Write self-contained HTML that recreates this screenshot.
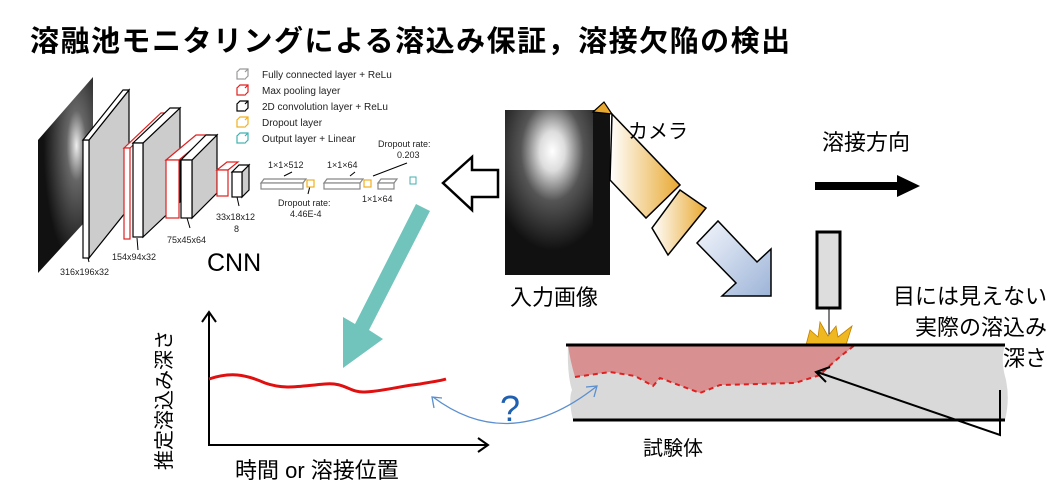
<!DOCTYPE html>
<html><head><meta charset="utf-8"><style>
body{margin:0;background:#fff;width:1063px;height:500px;overflow:hidden}
svg{display:block}
text{font-family:"Liberation Sans","Noto Sans CJK JP",sans-serif}
</style></head><body>
<svg width="1063" height="500" viewBox="0 0 1063 500">
<defs>
<linearGradient id="cam" x1="0" y1="0" x2="1" y2="0"><stop offset="0" stop-color="#fff"/><stop offset="1" stop-color="#e8a830"/></linearGradient>
<linearGradient id="blu" x1="0" y1="0" x2="1" y2="1"><stop offset="0" stop-color="#f4f7fc"/><stop offset="1" stop-color="#9db4d8"/></linearGradient>
<radialGradient id="glow" cx="0.45" cy="0.25" r="0.6"><stop offset="0" stop-color="#fff"/><stop offset="0.2" stop-color="#ddd"/><stop offset="0.5" stop-color="#555"/><stop offset="1" stop-color="#111"/></radialGradient>
<radialGradient id="glow2" cx="0.7" cy="0.35" r="0.6"><stop offset="0" stop-color="#eee"/><stop offset="0.3" stop-color="#666"/><stop offset="1" stop-color="#111"/></radialGradient>
</defs>
<text x="30" y="51" font-size="29" font-weight="bold" fill="#000" letter-spacing="1.5">溶融池モニタリングによる溶込み保証，溶接欠陥の検出</text>

<!-- CNN -->
<polygon points="38,140 93,77 93,213 38,273" fill="url(#glow2)"/>
<g stroke="#000" stroke-width="1.2">
<polygon points="89,140 129,90 129,208 89,258" fill="#ccc"/><rect x="83" y="140" width="6" height="118" fill="#fff"/><polygon points="83,140 123,90 129,90 89,140" fill="#fff"/>
</g>
<g stroke="#e02020" stroke-width="1.2" fill="#fff">
<polygon points="124,148 161,113 167,113 130,148"/><rect x="124" y="148" width="6" height="91"/>
</g>
<g stroke="#000" stroke-width="1.2">
<polygon points="143,143 180,108 180,202 143,237" fill="#ccc"/><polygon points="133,143 170,108 180,108 143,143" fill="#fff"/><rect x="133" y="143" width="10" height="94" fill="#fff"/>
</g>
<g stroke="#e02020" stroke-width="1.2" fill="#fff">
<polygon points="166,160 196,135 209,135 179,160"/><rect x="166" y="160" width="13" height="58"/>
</g>
<g stroke="#000" stroke-width="1.2">
<polygon points="192,160 217,135 217,193 192,218" fill="#ccc"/><polygon points="181,160 206,135 217,135 192,160" fill="#fff"/><rect x="181" y="160" width="11" height="58" fill="#fff"/>
</g>
<g stroke="#e02020" stroke-width="1.2" fill="#fff">
<polygon points="217,170 227,162 238,162 228,170"/><rect x="217" y="170" width="11" height="26"/>
</g>
<g stroke="#000" stroke-width="1.2">
<polygon points="242,172 249,165 249,190 242,197" fill="#ccc"/><polygon points="232,172 239,165 249,165 242,172" fill="#fff"/><rect x="232" y="172" width="10" height="25" fill="#fff"/>
</g>
<g font-size="9" fill="#222">
<text x="60" y="275">316x196x32</text><text x="112" y="260">154x94x32</text><text x="167" y="243">75x45x64</text>
<text x="216" y="220">33x18x12</text><text x="234" y="232">8</text>
<text x="268" y="168">1×1×512</text><text x="327" y="168">1×1×64</text>
<text x="278" y="206">Dropout rate:</text><text x="290" y="217">4.46E-4</text>
<text x="362" y="202">1×1×64</text>
<text x="378" y="147">Dropout rate:</text><text x="397" y="158">0.203</text>
</g>
<g stroke="#000" stroke-width="1"><line x1="88" y1="258" x2="89" y2="262"/><line x1="137" y1="238" x2="138" y2="250"/><line x1="187" y1="218" x2="190" y2="228"/><line x1="237" y1="197" x2="239" y2="206"/><line x1="284" y1="176" x2="292" y2="172"/><line x1="350" y1="176" x2="355" y2="172"/><line x1="310" y1="186" x2="308" y2="194"/><line x1="373" y1="176" x2="407" y2="163"/></g>
<g stroke="#888" stroke-width="1.2" fill="#fff">
<polygon points="261,183 264,179 306,179 303,183"/><rect x="261" y="183" width="42" height="6"/>
<polygon points="324,183 327,179 363,179 360,183"/><rect x="324" y="183" width="36" height="6"/>
<polygon points="378,183 381,179 397,179 394,183"/><rect x="378" y="183" width="16" height="6"/>
</g>
<g stroke="#f0b020" stroke-width="1.2" fill="#fff"><rect x="307" y="180" width="7" height="7"/><rect x="364" y="180" width="7" height="7"/></g>
<rect x="410" y="177" width="6" height="7" stroke="#40b0b0" fill="#fff"/>
<!-- legend -->
<g stroke-width="1.2" fill="#fff">
<g stroke="#999"><rect x="237" y="72" width="8" height="7"/><polyline points="237,72 240,69 248,69 248,76 245,79"/><line x1="245" y1="72" x2="248" y2="69"/></g>
<g stroke="#e02020"><rect x="237" y="88" width="8" height="7"/><polyline points="237,88 240,85 248,85 248,92 245,95"/><line x1="245" y1="88" x2="248" y2="85"/></g>
<g stroke="#000"><rect x="237" y="104" width="8" height="7"/><polyline points="237,104 240,101 248,101 248,108 245,111"/><line x1="245" y1="104" x2="248" y2="101"/></g>
<g stroke="#f0b020"><rect x="237" y="120" width="8" height="7"/><polyline points="237,120 240,117 248,117 248,124 245,127"/><line x1="245" y1="120" x2="248" y2="117"/></g>
<g stroke="#40b0b0"><rect x="237" y="136" width="8" height="7"/><polyline points="237,136 240,133 248,133 248,140 245,143"/><line x1="245" y1="136" x2="248" y2="133"/></g>
</g>
<g font-size="10" fill="#222">
<text x="262" y="78">Fully connected layer + ReLu</text><text x="262" y="94">Max pooling layer</text><text x="262" y="110">2D convolution layer + ReLu</text><text x="262" y="126">Dropout layer</text><text x="262" y="142">Output layer + Linear</text>
</g>
<text x="207" y="271" font-size="25" fill="#000">CNN</text>

<!-- outline left arrow -->
<polygon points="443,183 472,157 472,170 498,170 498,197 472,197 472,210" fill="#fff" stroke="#000" stroke-width="2.5"/>

<!-- teal arrow -->
<polygon points="416,204 430,211 369,330 383,339 343,368 343,317 355,324" fill="#70c4bc"/>

<!-- input image -->
<rect x="505" y="110" width="105" height="165" fill="url(#glow)"/>
<rect x="593" y="110" width="17" height="165" fill="#111"/>
<text x="510" y="305" font-size="22" fill="#000">入力画像</text>

<!-- camera -->
<polygon points="593,112 604,102 612,114" fill="#e8a830" stroke="#000" stroke-width="1.2"/>
<polygon points="612,114 680,185 646,218 610,180" fill="url(#cam)" stroke="#000" stroke-width="1.5"/>
<polygon points="680,190 706,208 668,255 652,228" fill="url(#cam)" stroke="#000" stroke-width="1.5"/>
<text x="628" y="138" font-size="20" fill="#000">カメラ</text>

<!-- blue arrow -->
<polygon points="697,243 718,221 757,262 771,249 771,296 722,296 736,283" fill="url(#blu)" stroke="#000" stroke-width="1.5"/>

<!-- direction -->
<text x="822" y="150" font-size="22" fill="#000">溶接方向</text>
<rect x="815" y="182" width="85" height="8" fill="#000"/><polygon points="897,175 920,186 897,197" fill="#000"/>

<!-- electrode -->
<rect x="817" y="232" width="23" height="76" fill="#ddd" stroke="#000" stroke-width="3"/>
<line x1="829" y1="308" x2="829" y2="335" stroke="#000" stroke-width="1"/>
<polygon points="806,345 810,330 818,337 820,322 828,336 836,326 838,337 852,326 846,345" fill="#f0b820" stroke="#c08000" stroke-width="0.8"/>

<!-- plate -->
<path d="M568,345 L1005,345 Q1000,360 1006,380 Q1010,400 1005,420 L573,420 Q568,400 572,390 Q567,375 568,345Z" fill="#d9d9d9"/>
<path d="M568,345 L855,345 Q830,365 820,375 L795,383 L720,385 L700,393 L660,378 L653,386 L635,376 L610,372 L575,377 Q570,360 568,345Z" fill="#d99090"/>
<path d="M575,377 L610,372 L635,376 L653,386 L660,378 L700,393 L720,385 L795,383 L820,375 Q835,360 855,345" fill="none" stroke="#e02020" stroke-width="2" stroke-dasharray="5,4"/>
<line x1="566" y1="345" x2="1005" y2="345" stroke="#000" stroke-width="3"/>
<line x1="573" y1="420" x2="1005" y2="420" stroke="#000" stroke-width="3"/>
<text x="643" y="455" font-size="20" fill="#000">試験体</text>

<!-- pointer -->
<polyline points="1000,390 1000,435 817,372" fill="none" stroke="#000" stroke-width="2"/>
<polyline points="830,367 816,372 826,382" fill="none" stroke="#000" stroke-width="2"/>
<g font-size="22" fill="#000" text-anchor="end">
<text x="1047" y="304">目には見えない</text><text x="1047" y="335">実際の溶込み</text><text x="1047" y="366">深さ</text>
</g>

<!-- graph -->
<g stroke="#000" stroke-width="2" fill="none">
<polyline points="209,313 209,445 488,445"/>
<polyline points="202,322 209,312 216,322"/><polyline points="478,438 488,445 478,452"/>
</g>
<path d="M209,379 C230,372 245,374 265,383 C285,390 300,386 325,384 C345,382 350,393 365,392 C385,391 400,386 420,384 C430,382 440,381 446,379" fill="none" stroke="#e01010" stroke-width="3"/>
<text font-size="20" fill="#000" transform="translate(171,470) rotate(-90)">推定溶込み深さ</text>
<text x="235" y="478" font-size="22" fill="#000">時間 or 溶接位置</text>

<!-- question -->
<path d="M433,397 Q510,455 597,386" fill="none" stroke="#5b8fd0" stroke-width="1.3"/>
<polyline points="434,408 432,397 442,398" fill="none" stroke="#5b8fd0" stroke-width="1.3"/>
<polyline points="586,387 597,386 594,397" fill="none" stroke="#5b8fd0" stroke-width="1.3"/>
<text x="500" y="421" font-size="36" fill="#2060b0">?</text>
</svg>
</body></html>
